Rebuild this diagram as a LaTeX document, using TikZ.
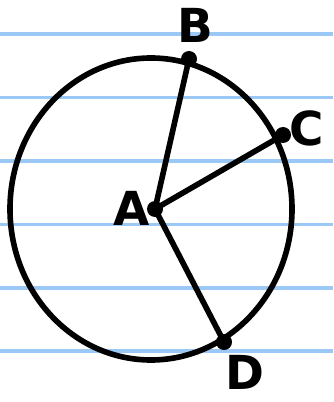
\documentclass[tikz,border=0pt]{standalone}
\usepackage{fontspec}
\setsansfont{DejaVu Sans}
\usetikzlibrary{positioning}
\definecolor{cpaper}{HTML}{9CC8F5}
\tikzset{
  every picture/.style={line width=4.8pt, line cap=round, line join=round},
  ruling/.style={draw=cpaper, line width=2.6pt, line cap=butt},
  dot/.style={circle, fill=black, inner sep=0pt, minimum size=0.48cm},
  letter/.style={font=\sffamily\bfseries\fontsize{40}{40}\selectfont, inner sep=0pt},
}

\begin{document}
\begin{tikzpicture}[x=0.03cm, y=-0.03cm]
  \useasboundingbox (0,0) rectangle (333,402);
  % the ruled paper
  \foreach \ry in {34,97.5,161,224.5,288,351}
    \draw[ruling] (0,\ry) -- (333,\ry);
  % the circle and its points
  \draw (151,209) ellipse [x radius=141, y radius=151];
  \node[dot] (A) at (155,209) {};
  \node[dot] (B) at (189,59) {};
  \node[dot] (C) at (283,135) {};
  \node[dot] (D) at (224,342) {};
  \draw (A.center) -- (B.center);
  \draw (A.center) -- (C.center);
  \draw (A.center) -- (D.center);
  % the labels
  \node[letter] (labA) at (132,208) {A};
  \node[letter] (labB) at (195,25) {B};
  \node[letter] (labC) at (307,128) {C};
  \node[letter] (labD) at (245,372) {D};
\end{tikzpicture}
\end{document}
